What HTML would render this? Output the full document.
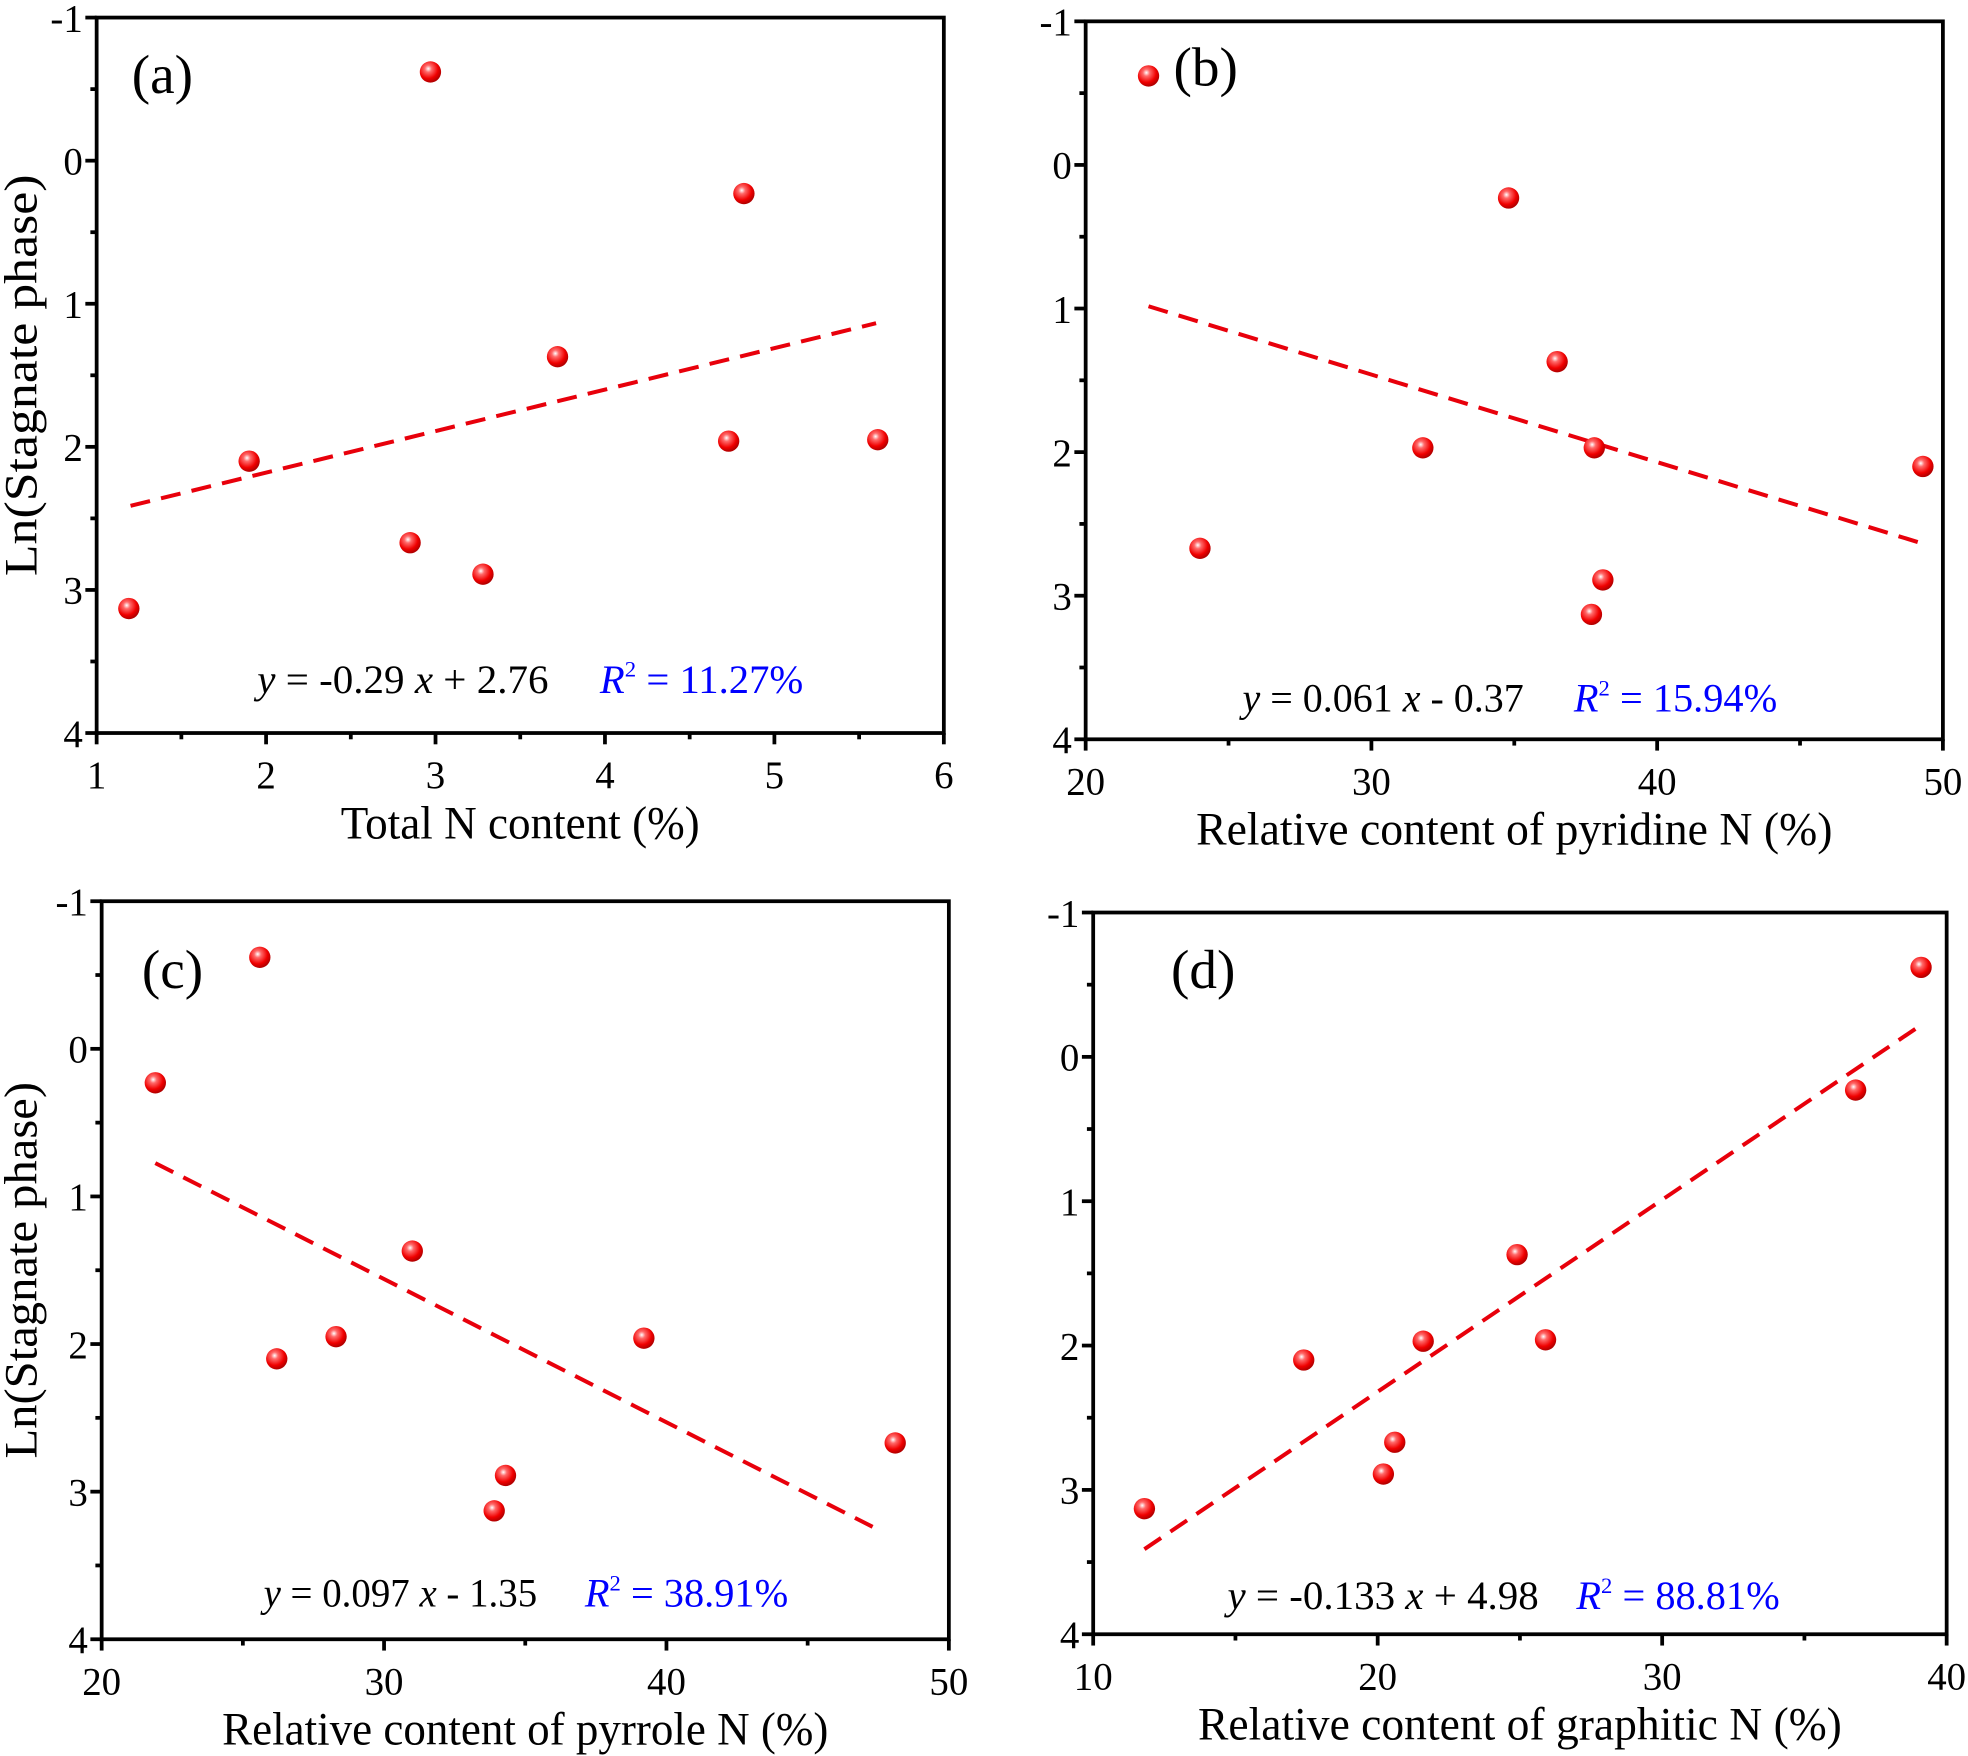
<!DOCTYPE html>
<html><head><meta charset="utf-8"><style>
html,body{margin:0;padding:0;background:#fff;}
svg{display:block;font-family:"Liberation Serif","Times New Roman",serif;}
</style></head><body>
<svg id="chart" width="1968" height="1756" viewBox="0 0 1568 1399" preserveAspectRatio="none" xmlns="http://www.w3.org/2000/svg" font-family="Liberation Serif, serif">
<defs>
<radialGradient id="ball" cx="0.4" cy="0.35" r="0.65">
<stop offset="0" stop-color="#fff"/><stop offset="0.25" stop-color="#ff6a6a"/><stop offset="0.7" stop-color="#f00000"/><stop offset="1" stop-color="#b00000"/>
</radialGradient>
</defs>
</svg>
<script>
const yVals = [-0.62, 0.23, 1.37, 2.10, 2.67, 2.89, 3.13, 1.96, 1.95];
const xA = [2.97, 4.82, 3.72, 1.90, 2.85, 3.28, 1.19, 4.73, 5.61];
const yB = [-0.62, 0.23, 1.37, 1.97, 1.97, 2.67, 2.89, 3.13, 2.10];
const xB = [22.2, 34.8, 36.5, 31.8, 37.8, 24.0, 38.1, 37.7, 49.3];
const yC = [0.23, -0.62, 1.37, 2.10, 1.95, 1.96, 2.89, 3.13, 2.67];
const xC = [21.9, 25.6, 31.0, 26.2, 28.3, 39.2, 34.3, 33.9, 48.1];
const yD = [-0.62, 0.23, 1.37, 1.97, 1.96, 2.10, 2.67, 2.89, 3.13];
const xD = [39.1, 36.8, 24.9, 21.6, 25.9, 17.4, 20.6, 20.2, 11.8];
const yTicks = [-1, 0, 1, 2, 3, 4];
const xTicksA = [1, 2, 3, 4, 5, 6];
const xTicksB = [20, 30, 40, 50];
const xTicksD = [10, 20, 30, 40];
const fitA = {slope: -0.29, icpt: 2.76, x0: 1.2, x1: 5.6};
const fitB = {slope: 0.061, icpt: -0.37, x0: 22.2, x1: 49.3};
const fitC = {slope: 0.097, icpt: -1.35, x0: 21.9, x1: 47.3};
const fitD = {slope: -0.133, icpt: 4.98, x0: 11.8, x1: 39.1};

const NS = "http://www.w3.org/2000/svg";
const svg = document.getElementById('chart');
function mk(tag, attrs, parent, text){
  const e = document.createElementNS(NS, tag);
  for (const k in attrs) e.setAttribute(k, attrs[k]);
  if (text !== undefined) e.textContent = text;
  (parent || svg).appendChild(e);
  return e;
}
const panels = [
  {id:'a', L:77, R:752, T:14, B:584, xs:xA, ys:yVals, xt:xTicksA, xmin:1, xmax:6, minor:0.5, fit:fitA,
   xlabel:'Total N content (%)', xlw:286, eq:['-0.29','+ 2.76'], eqW:232, r2:'11.27%', eqX:205, eqY:552, r2X:478, ylab:true, ylw:320, labX:105, labY:74},
  {id:'b', L:865, R:1548, T:17, B:589, xs:xB, ys:yB, xt:xTicksB, xmin:20, xmax:50, minor:5, fit:fitB,
   xlabel:'Relative content of pyridine N (%)', xlw:507, eq:['0.061','- 0.37'], eqW:224, r2:'15.94%', eqX:990, eqY:567, r2X:1254, ylab:false, labX:935, labY:68},
  {id:'c', L:81, R:756, T:718, B:1306, xs:xC, ys:yC, xt:xTicksB, xmin:20, xmax:50, minor:5, fit:fitC,
   xlabel:'Relative content of pyrrole N (%)', xlw:483, eq:['0.097','- 1.35'], eqW:218, r2:'38.91%', eqX:210, eqY:1280, r2X:466, ylab:true, ylw:300, labX:113, labY:787},
  {id:'d', L:871, R:1551, T:727, B:1302, xs:xD, ys:yD, xt:xTicksD, xmin:10, xmax:40, minor:5, fit:fitD,
   xlabel:'Relative content of graphitic N (%)', xlw:513, eq:['-0.133','+ 4.98'], eqW:248, r2:'88.81%', eqX:978, eqY:1282, r2X:1256, ylab:false, labX:933, labY:787}
];
panels.forEach(p => {
  const g = mk('g', {});
  
  
  const sx = v => p.L + (v - p.xmin) / (p.xmax - p.xmin) * (p.R - p.L);
  const sy = v => p.T + (v + 1) / 5 * (p.B - p.T);
  const frame = mk('rect', {x:p.L, y:p.T, width:p.R-p.L, height:p.B-p.T, fill:'none', stroke:'#000', 'stroke-width':3}, g);
  
  
  for (let v = -1; v <= 4.001; v += 0.5) {
    const major = Math.abs(v - Math.round(v)) < 1e-6;
    mk('line', {x1:p.L, x2:p.L - (major ? 9 : 5), y1:sy(v), y2:sy(v), stroke:'#000', 'stroke-width':3}, g);
  }
  yTicks.forEach(v => {
    const t = mk('text', {x:p.L - 11, y:sy(v) + 11, 'text-anchor':'end', 'font-size':31}, g, String(v));
    
    
  });
  for (let v = p.xmin; v <= p.xmax + 1e-6; v += p.minor) {
    const major = p.xt.some(t => Math.abs(t - v) < 1e-6);
    mk('line', {x1:sx(v), x2:sx(v), y1:p.B, y2:p.B + (major ? 9 : 5), stroke:'#000', 'stroke-width':3}, g);
  }
  p.xt.forEach(v => {
    const t = mk('text', {x:sx(v), y:p.B + 44, 'text-anchor':'middle', 'font-size':31}, g, String(v));
    
    
  });
  const xl = mk('text', {x:(p.L + p.R) / 2 - p.xlw/2, y:p.B + 84, 'font-size':37, textLength:p.xlw, lengthAdjust:'spacingAndGlyphs'}, g, p.xlabel);
  
  
  if (p.ylab) {
    const cy = (p.T + p.B) / 2;
    const yl = mk('text', {x:-p.ylw/2, y:0, transform:`translate(29,${cy}) rotate(-90)`, 'font-size':37, textLength:p.ylw, lengthAdjust:'spacingAndGlyphs'}, g, 'Ln(Stagnate phase)');
    
    
  }
  const pl = mk('text', {x:p.labX, y:p.labY, 'font-size':44}, g, '(' + p.id + ')');
  
  
  const f = p.fit;
  const fl = mk('line', {x1:sx(f.x0), y1:sy(f.slope*f.x0+f.icpt), x2:sx(f.x1), y2:sy(f.slope*f.x1+f.icpt), stroke:'#e8000b', 'stroke-width':3.2, 'stroke-dasharray':'16 9'}, g);
  
  
  p.xs.forEach((xv, i) => {
    const c = mk('circle', {cx:sx(xv), cy:sy(p.ys[i]), r:8.5, fill:'url(#ball)'}, g);
    
    
  });
  const eq = mk('text', {x:p.eqX, y:p.eqY, 'font-size':32, textLength:p.eqW, lengthAdjust:'spacingAndGlyphs'}, g);
  
  
  mk('tspan', {'font-style':'italic'}, eq, 'y');
  mk('tspan', {}, eq, ' = ' + p.eq[0] + ' ');
  mk('tspan', {'font-style':'italic'}, eq, 'x');
  mk('tspan', {}, eq, ' ' + p.eq[1]);
  const r2 = mk('text', {x:p.r2X, y:p.eqY, 'font-size':32, fill:'#0000ff', textLength:162, lengthAdjust:'spacingAndGlyphs'}, g);
  
  
  mk('tspan', {'font-style':'italic'}, r2, 'R');
  mk('tspan', {'font-size':18, dy:-13}, r2, '2');
  mk('tspan', {dy:13}, r2, ' = ' + p.r2);
});
</script>
</body></html>
